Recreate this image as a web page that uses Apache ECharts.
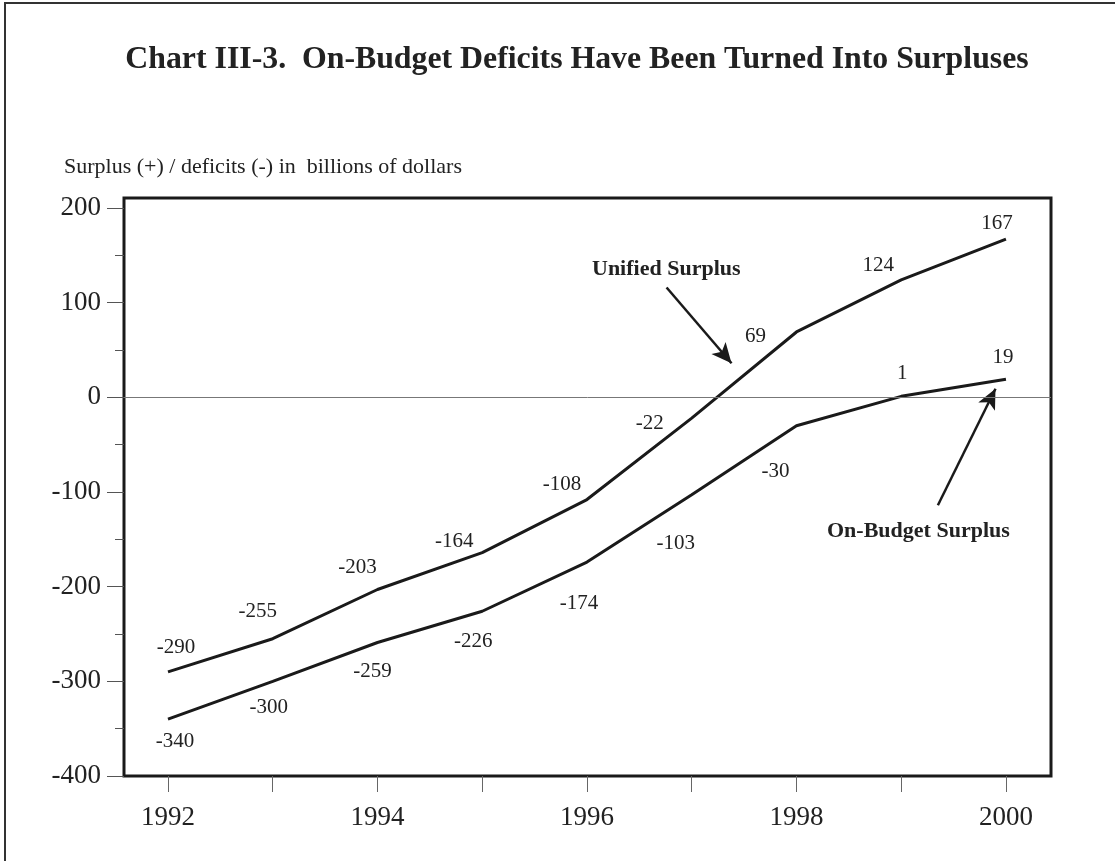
<!DOCTYPE html>
<html>
<head>
<meta charset="utf-8">
<script src="https://cdn.jsdelivr.net/npm/echarts@6/dist/echarts.min.js"></script>
<style>
html,body{margin:0;padding:0;background:#fff;}
#main{width:1115px;height:861px;}
</style>
</head>
<body>
<div id="main"></div>
<script>
// ---- data ----
var years = [1992, 1993, 1994, 1995, 1996, 1997, 1998, 1999, 2000];
var unifiedSurplus = [-290, -255, -203, -164, -108, -22, 69, 124, 167];
var onBudgetSurplus = [-340, -300, -259, -226, -174, -103, -30, 1, 19];
var xTickValues = [1992, 1993, 1994, 1995, 1996, 1997, 1998, 1999, 2000];
var xLabelValues = [1992, 1994, 1996, 1998, 2000];
var yLabelValues = [-400, -300, -200, -100, 0, 100, 200];
var yMinorTickValues = [-400, -350, -300, -250, -200, -150, -100, -50, 0, 50, 100, 150, 200];
// annotation arrows (data coordinates: [year, value] start -> end)
var unifiedArrow = [[1996.76, 116], [1997.38, 36]];
var onBudgetArrow = [[1999.35, -114], [1999.90, 9]];

// ---- layout (label placement, pixels) ----
var unifiedLabelOffsets = [[8,-24],[-15,-27],[-20,-22],[-28,-11],[-25,-15],[-42,5],[-41,5],[-23,-14],[-9,-16]];
var onBudgetLabelOffsets = [[7,22],[-4,26],[-5,29],[-9,30],[-8,41],[-16,49],[-21,46],[1,-23],[-3,-22]];

var FONT = '"Liberation Serif", "Times New Roman", serif';
var INK = '#1a1a1a';

function buildData(vals, offs) {
  return vals.map(function (v, i) {
    return { value: [years[i], v], label: { offset: offs[i] } };
  });
}

var chart = echarts.init(document.getElementById('main'), null, { renderer: 'canvas' });

var lineLabel = {
  show: true,
  position: 'inside',
  align: 'center',
  verticalAlign: 'middle',
  fontFamily: FONT,
  fontSize: 21,
  color: '#222',
  formatter: function (p) { return String(p.value[1]); }
};

var option = {
  animation: false,
  backgroundColor: '#fff',
  title: {
    text: 'Chart III-3.  On-Budget Deficits Have Been Turned Into Surpluses',
    left: 572,
    textAlign: 'center',
    top: 39,
    textStyle: { fontFamily: FONT, fontWeight: 'bold', fontSize: 31.8, color: '#222' }
  },
  grid: {
    left: 124, right: 64, top: 198, bottom: 85,
    show: true, borderColor: INK, borderWidth: 3, backgroundColor: 'transparent'
  },
  xAxis: {
    type: 'value',
    min: 1991.58,
    max: 2000.43,
    axisLine: { show: false, onZero: false },
    splitLine: { show: false },
    axisTick: { show: true, inside: false, length: 16, customValues: xTickValues, lineStyle: { color: '#666', width: 1 } },
    axisLabel: { show: true, customValues: xLabelValues, margin: 28, fontFamily: FONT, fontSize: 27, color: '#222',
      formatter: function (v) { return String(v); } }
  },
  yAxis: [{
    type: 'value',
    min: -400,
    max: 210.5,
    position: 'left',
    axisLine: { show: false },
    splitLine: { show: false },
    axisTick: { show: true, length: 17, customValues: yLabelValues, lineStyle: { color: '#555', width: 1 } },
    axisLabel: { show: true, customValues: yLabelValues, margin: 23, fontFamily: FONT, fontSize: 27, color: '#222' },
    name: 'Surplus (+) / deficits (-) in  billions of dollars',
    nameLocation: 'end',
    nameGap: 20,
    nameTextStyle: { fontFamily: FONT, fontSize: 22, color: '#222', align: 'left', padding: [0, 0, 0, -60] }
  }, {
    type: 'value',
    min: -400,
    max: 210.5,
    position: 'left',
    axisLine: { show: false },
    splitLine: { show: false },
    axisTick: { show: true, length: 9, customValues: yMinorTickValues, lineStyle: { color: '#555', width: 1 } },
    axisLabel: { show: false }
  }],
  graphic: [
    { type: 'rect', shape: { x: 5, y: 3, width: 1200, height: 1000 }, style: { fill: null, stroke: '#333', lineWidth: 2 }, z: 0, silent: true },
    { type: 'text', left: 592, top: 258, style: { text: 'Unified Surplus', fontFamily: FONT, fontWeight: 'bold', fontSize: 22, fill: '#222' } },
    { type: 'text', left: 827, top: 520, style: { text: 'On-Budget Surplus', fontFamily: FONT, fontWeight: 'bold', fontSize: 22, fill: '#222' } }
  ],
  series: [{
    name: 'Unified Surplus',
    type: 'line',
    data: buildData(unifiedSurplus, unifiedLabelOffsets),
    symbol: 'circle',
    symbolSize: 0.1,
    showSymbol: true,
    itemStyle: { color: INK },
    lineStyle: { color: INK, width: 3 },
    label: lineLabel,
    z: 3,
    markLine: {
      silent: true,
      symbol: ['none', 'arrow'],
      symbolSize: [14, 20],
      label: { show: false },
      lineStyle: { color: INK, width: 2.5, type: 'solid' },
      data: [[{ coord: unifiedArrow[0] }, { coord: unifiedArrow[1] }]]
    }
  }, {
    name: 'On-Budget Surplus',
    type: 'line',
    data: buildData(onBudgetSurplus, onBudgetLabelOffsets),
    symbol: 'circle',
    symbolSize: 0.1,
    showSymbol: true,
    itemStyle: { color: INK },
    lineStyle: { color: INK, width: 3 },
    label: lineLabel,
    z: 3,
    markLine: {
      silent: true,
      symbol: ['none', 'arrow'],
      symbolSize: [14, 20],
      label: { show: false },
      lineStyle: { color: INK, width: 2.5, type: 'solid' },
      data: [[{ coord: onBudgetArrow[0] }, { coord: onBudgetArrow[1] }]]
    }
  }, {
    name: 'zero',
    type: 'line',
    data: [],
    z: 1,
    markLine: {
      silent: true,
      symbol: ['none', 'none'],
      label: { show: false },
      lineStyle: { color: '#777', width: 1, type: 'solid' },
      data: [{ yAxis: 0 }]
    }
  }]
};

chart.setOption(option);
</script>
</body>
</html>
